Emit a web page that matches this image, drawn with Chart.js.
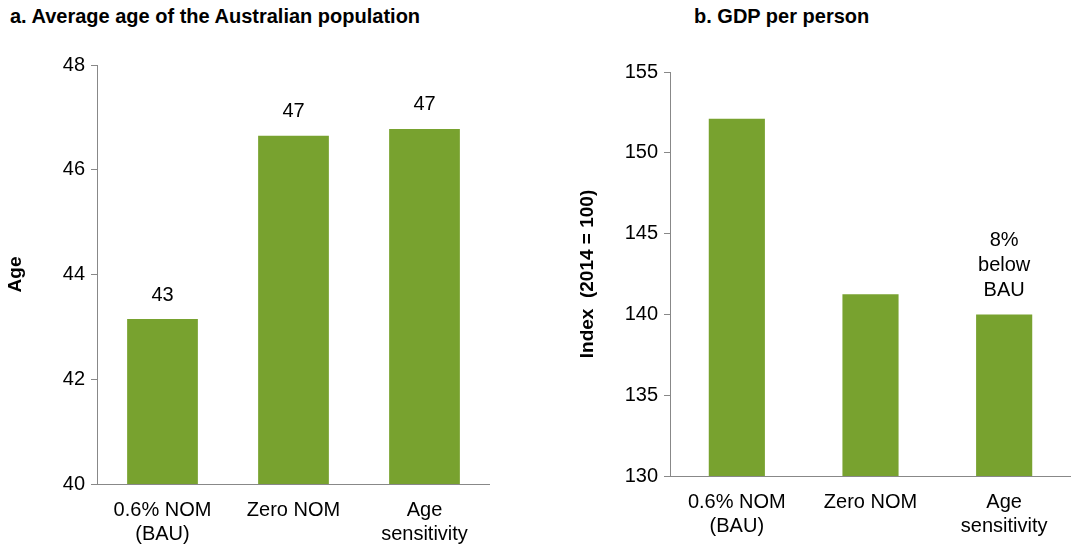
<!DOCTYPE html>
<html><head><meta charset="utf-8">
<script src="https://cdn.jsdelivr.net/npm/chart.js@4"></script>
<style>
body{margin:0;width:1071px;height:554px;background:#fff;position:relative;overflow:hidden;font-family:"Liberation Sans",Arial,sans-serif}
.t{position:absolute;top:5px;font-weight:bold;font-size:20px;color:#000}
.c{position:absolute;top:0;height:554px}
</style></head><body>
<div class="t" style="left:10px">a. Average age of the Australian population</div>
<div class="t" style="left:694px">b. GDP per person</div>
<div class="c" style="left:0;width:490px"><canvas id="ageChart"></canvas></div>
<div class="c" style="left:530px;width:541px"><canvas id="gdpChart"></canvas></div>
<script>
const categories = [["0.6% NOM", "(BAU)"], "Zero NOM", ["Age", "sensitivity"]];
const ageValues = [43.15, 46.65, 46.78];
const ageLabels = [["43"], ["47"], ["47"]];
const gdpValues = [152.1, 141.25, 140.0];
const gdpLabels = [[], [], ["8%", "below", "BAU"]];
const barColor = "#78a22f";

Chart.defaults.font.family = '"Liberation Sans", Arial, sans-serif';
Chart.defaults.color = "#000";

const barText = {
  id: "barText",
  afterDatasetsDraw(chart, args, opts) {
    const c = chart.ctx;
    c.save();
    c.font = "20px 'Liberation Sans', Arial, sans-serif";
    c.fillStyle = "#000";
    c.textAlign = "center";
    c.textBaseline = "bottom";
    chart.getDatasetMeta(0).data.forEach((bar, i) => {
      const lines = opts.labels[i];
      lines.forEach((s, j) => {
        c.fillText(s, bar.x, bar.y - 14 - (lines.length - 1 - j) * 25);
      });
    });
    c.restore();
  }
};

function renderChart(id, values, labels, yMin, yMax, step, yTitle, axisW, barPct, titlePad) {
  new Chart(document.getElementById(id), {
    type: "bar",
    data: {
      labels: categories,
      datasets: [{ data: values, backgroundColor: barColor, categoryPercentage: 1, barPercentage: barPct }]
    },
    options: {
      responsive: true,
      maintainAspectRatio: false,
      animation: false,
      layout: { padding: { top: id === "ageChart" ? 65 : 72 } },
      plugins: { legend: { display: false }, tooltip: { enabled: false }, barText: { labels: labels } },
      scales: {
        x: {
          grid: { display: false },
          border: { color: "#888" },
          ticks: { font: { size: 20 }, color: "#000", maxRotation: 0, padding: 6 },
          afterFit(s) { s.height = id === "ageChart" ? 70 : 78; }
        },
        y: {
          min: yMin, max: yMax,
          ticks: { stepSize: step, font: { size: 20 }, color: "#000", padding: 6 },
          grid: { drawOnChartArea: false, tickLength: 6, color: "#888" },
          border: { color: "#888" },
          title: { display: true, text: yTitle, font: { size: 19, weight: "bold" }, color: "#000", padding: titlePad },
          afterFit(s) { s.width = axisW; }
        }
      }
    },
    plugins: [barText]
  });
}

renderChart("ageChart", ageValues, ageLabels, 40, 48, 2, "Age", 97, 0.54, { top: 4, bottom: 4 });
renderChart("gdpChart", gdpValues, gdpLabels, 130, 155, 5, "Index  (2014 = 100)", 140, 0.42, { top: 46, bottom: 4 });
</script>
</body></html>
